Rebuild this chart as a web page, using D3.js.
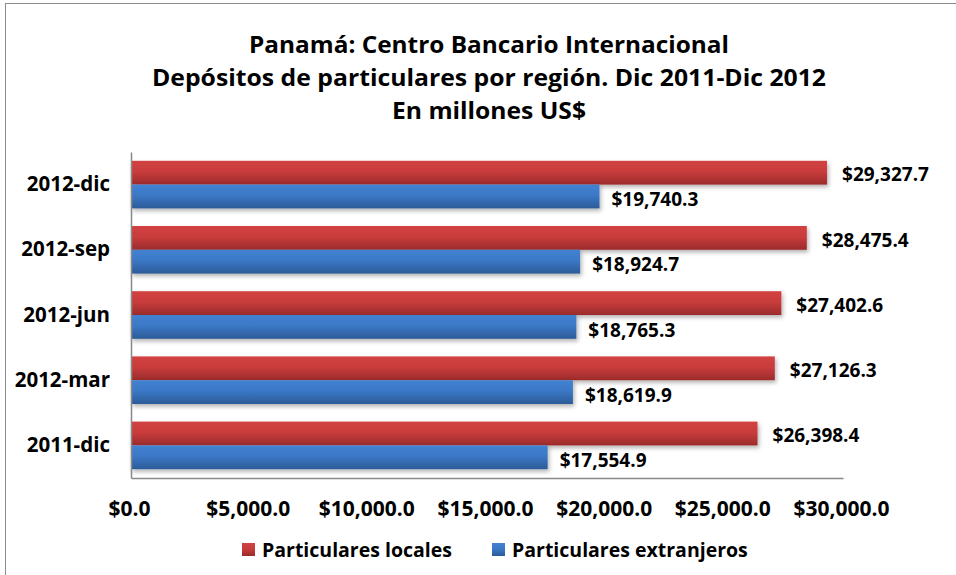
<!DOCTYPE html>
<html><head><meta charset="utf-8">
<script src="https://cdn.jsdelivr.net/npm/d3@7"></script>
<style>body{margin:0;background:#fff}svg{display:block}text{font-family:"Open Sans",Lato,sans-serif;font-weight:bold;fill:#000}</style>
</head><body><svg id="c" width="956" height="575"></svg>
<script>
const categories = ["2012-dic","2012-sep","2012-jun","2012-mar","2011-dic"];
const locales = [29327.7, 28475.4, 27402.6, 27126.3, 26398.4];
const extranjeros = [19740.3, 18924.7, 18765.3, 18619.9, 17554.9];
const tickValues = [0, 5000, 10000, 15000, 20000, 25000, 30000];
const seriesNames = ["Particulares locales", "Particulares extranjeros"];
const titleLines = ["Panamá: Centro Bancario Internacional","Depósitos de particulares por región. Dic 2011-Dic 2012","En millones US$"];

const FF = '"Open Sans",Lato,sans-serif';
const svg = d3.select("#c");
const defs = svg.append("defs");
function grad(id, c0, c1, c2){
  const g = defs.append("linearGradient").attr("id", id).attr("x1",0).attr("y1",0).attr("x2",0).attr("y2",1);
  g.append("stop").attr("offset","0%").attr("stop-color",c0);
  g.append("stop").attr("offset","45%").attr("stop-color",c1);
  g.append("stop").attr("offset","100%").attr("stop-color",c2);
}
grad("gr","#d24242","#c93c3c","#9b2b2b");
grad("gb","#4282d2","#3b78c6","#2c5b98");
const f = defs.append("filter").attr("id","sh").attr("x","-5%").attr("y","-20%").attr("width","110%").attr("height","160%");
f.append("feDropShadow").attr("dx",1.5).attr("dy",2.5).attr("stdDeviation",2).attr("flood-color","#000").attr("flood-opacity",0.3);

// frame
svg.append("rect").attr("x",5.5).attr("y",3.5).attr("width",1000).attr("height",700).attr("fill","none").attr("stroke","#8c8c8c").attr("stroke-width",1);

// title
const ty = [53, 86, 119];
const tlen = [480, 674, 194];
titleLines.forEach((t,i)=>{
  svg.append("text").attr("x",489).attr("y",ty[i]).attr("text-anchor","middle").attr("font-size",23)
    .attr("textLength",tlen[i]).attr("lengthAdjust","spacingAndGlyphs").text(t);
});

const x = d3.scaleLinear().domain([0,30000]).range([131,843]);
const y = d3.scaleBand().domain(categories).range([152,478]).paddingInner(0.27).paddingOuter(0.135);
const half = y.bandwidth()/2;

const data = categories.map((c,i)=>({c, loc:locales[i], ext:extranjeros[i]}));
const g = svg.append("g");
const fmt = v => "$" + d3.format(",.1f")(v);

g.selectAll(".rl").data(data).join("rect").attr("class","rl")
  .attr("x",x(0)).attr("y",d=>y(d.c)).attr("width",d=>x(d.loc)-x(0)).attr("height",half)
  .attr("fill","url(#gr)").attr("filter","url(#sh)");
g.selectAll(".rb").data(data).join("rect").attr("class","rb")
  .attr("x",x(0)).attr("y",d=>y(d.c)+half).attr("width",d=>x(d.ext)-x(0)).attr("height",half)
  .attr("fill","url(#gb)").attr("filter","url(#sh)");

g.selectAll(".ll").data(data).join("text").attr("class","ll").attr("font-size",19)
  .attr("x",d=>x(d.loc)+15).attr("y",d=>y(d.c)+half/2+2).attr("dy","0.35em").text(d=>fmt(d.loc));
g.selectAll(".lb").data(data).join("text").attr("class","lb").attr("font-size",19)
  .attr("x",d=>x(d.ext)+12).attr("y",d=>y(d.c)+half*1.5+3).attr("dy","0.35em").text(d=>fmt(d.ext));

// axes
const xa = svg.append("g").attr("transform","translate(0,478)")
  .call(d3.axisBottom(x).tickValues(tickValues).tickSize(0).tickPadding(23).tickFormat(fmt));
xa.select(".domain").attr("stroke","#888").attr("stroke-width",1.5);
xa.selectAll("text").attr("font-size",21).attr("font-family",FF).attr("font-weight","bold").attr("fill","#000").attr("dx",-2);

const ya = svg.append("g").attr("transform","translate(131,0)")
  .call(d3.axisLeft(y).tickSize(0).tickPadding(21));
ya.select(".domain").attr("stroke","#888").attr("stroke-width",1.5);
ya.selectAll("text").attr("font-size",20.5).attr("font-family",FF).attr("font-weight","bold").attr("fill","#000");

// legend
const leg = svg.append("g");
const lx = [242, 492];
["url(#gr)","url(#gb)"].forEach((fill,i)=>{
  leg.append("rect").attr("x",lx[i]).attr("y",543).attr("width",13).attr("height",13).attr("fill",fill);
  leg.append("text").attr("x",lx[i]+20).attr("y",550).attr("dy","0.35em").attr("font-size",19.5).text(seriesNames[i]);
});
</script></body></html>
